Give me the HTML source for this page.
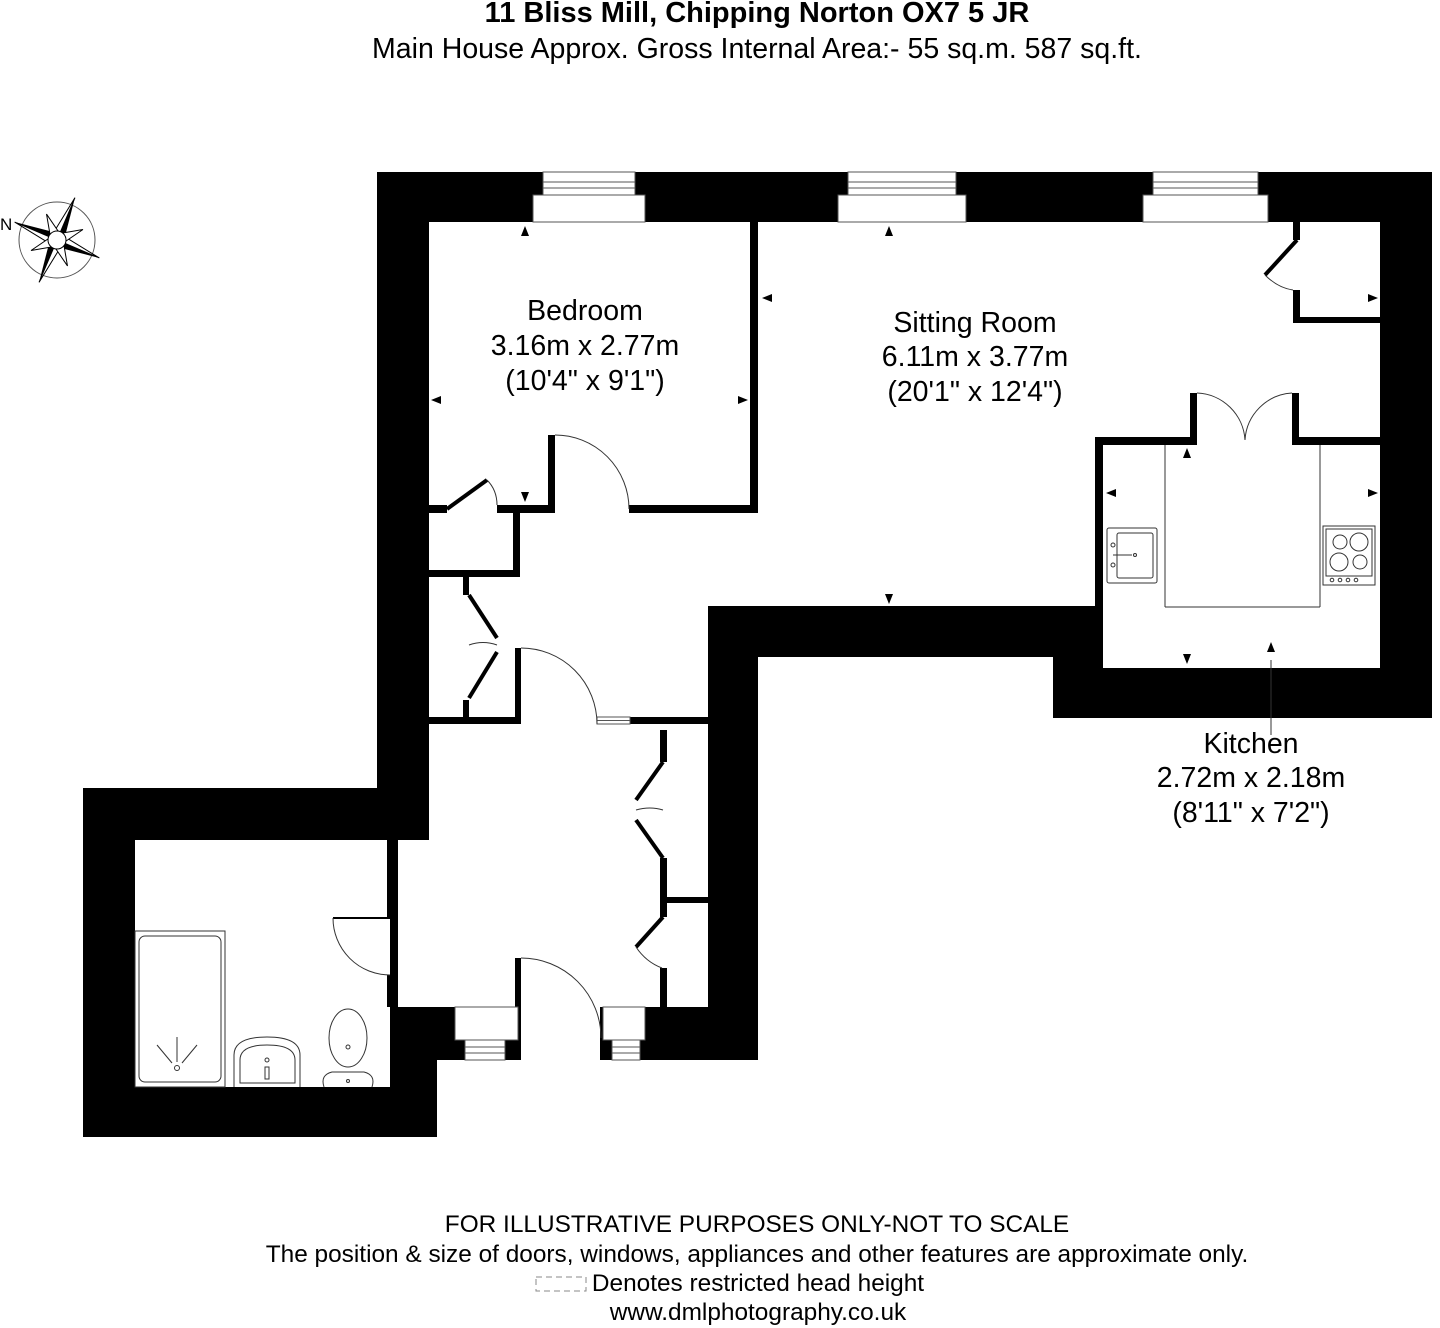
<!DOCTYPE html>
<html><head><meta charset="utf-8"><style>
html,body{margin:0;padding:0;background:#fff;}
svg{display:block;}
text{font-family:"Liberation Sans",Arial,sans-serif;fill:#000;}
</style></head><body>
<svg width="1440" height="1328" viewBox="0 0 1440 1328" xmlns="http://www.w3.org/2000/svg">
<rect width="1440" height="1328" fill="#fff"/>
<text x="757" y="22" font-size="29" font-weight="bold" text-anchor="middle">11 Bliss Mill, Chipping Norton OX7 5 JR</text>
<text x="757" y="58" font-size="28.5" text-anchor="middle">Main House Approx. Gross Internal Area:- 55 sq.m. 587 sq.ft.</text>

<path d="M377,172 H1432 V718 H1053 V657 H758 V1060 H437 V1137 H83 V788 H377 Z" fill="#000"/>
<g fill="#fff">
<rect x="429" y="222" width="951" height="384"/>
<rect x="429" y="606" width="279" height="401"/>
<rect x="398" y="840" width="31" height="167"/>
<rect x="1103" y="445" width="277" height="223"/>
<rect x="135" y="840" width="255" height="247"/>
<rect x="521" y="1007" width="79" height="54"/>
</g>
<g fill="#000">
<rect x="750" y="222" width="8" height="291"/>
<rect x="429" y="505" width="18" height="8"/>
<rect x="497" y="505" width="58" height="8"/>
<rect x="548" y="435" width="7" height="78"/>
<rect x="629" y="505" width="129" height="8"/>
<rect x="513" y="505" width="7" height="72"/>
<rect x="429" y="570" width="91" height="7"/>
<rect x="463" y="577" width="6" height="18"/>
<rect x="463" y="700" width="6" height="24"/>
<rect x="429" y="717" width="92" height="7"/>
<rect x="515" y="648" width="6" height="76"/>
<rect x="630" y="717" width="78" height="7"/>
<rect x="708" y="606" width="395" height="51"/>
<rect x="1053" y="606" width="50" height="112"/>
<rect x="708" y="606" width="50" height="454"/>
<rect x="1095" y="437" width="8" height="169"/>
<rect x="1095" y="437" width="100" height="8"/>
<rect x="1292" y="437" width="88" height="8"/>
<rect x="1190" y="393" width="7" height="52"/>
<rect x="1292" y="393" width="7" height="52"/>
<rect x="1293" y="222" width="7" height="18"/>
<rect x="1293" y="290" width="7" height="33"/>
<rect x="1293" y="317" width="87" height="6"/>
<rect x="660" y="730" width="7" height="32"/>
<rect x="660" y="858" width="7" height="45"/>
<rect x="660" y="897" width="48" height="6"/>
<rect x="660" y="903" width="7" height="14"/>
<rect x="660" y="968" width="7" height="39"/>
<rect x="387" y="840" width="11" height="78"/>
<rect x="387" y="975" width="11" height="32"/>
<rect x="398" y="1007" width="57" height="53"/>
<rect x="515" y="958" width="6" height="102"/>
<rect x="600" y="1007" width="3" height="53"/>
<rect x="645" y="1007" width="63" height="53"/>
</g>
<g fill="#fff" stroke="#555" stroke-width="1">
<rect x="543" y="172" width="92" height="23"/><line x1="543" y1="182" x2="635" y2="182"/><line x1="543" y1="188" x2="635" y2="188"/>
<rect x="533" y="195" width="112" height="27"/>
<rect x="848" y="172" width="108" height="23"/><line x1="848" y1="182" x2="956" y2="182"/><line x1="848" y1="188" x2="956" y2="188"/>
<rect x="838" y="195" width="128" height="27"/>
<rect x="1153" y="172" width="105" height="23"/><line x1="1153" y1="182" x2="1258" y2="182"/><line x1="1153" y1="188" x2="1258" y2="188"/>
<rect x="1143" y="195" width="125" height="27"/>
<rect x="597" y="717" width="33" height="7"/><line x1="597" y1="720.5" x2="630" y2="720.5"/>
<rect x="455" y="1007" width="63" height="33"/>
<rect x="465" y="1040" width="40" height="20"/><line x1="465" y1="1047" x2="505" y2="1047"/><line x1="465" y1="1053" x2="505" y2="1053"/>
<rect x="603" y="1007" width="42" height="33"/>
<rect x="612" y="1040" width="28" height="20"/><line x1="612" y1="1047" x2="640" y2="1047"/><line x1="612" y1="1053" x2="640" y2="1053"/>
</g>
<g stroke="#000" stroke-width="4" fill="none">
<line x1="447" y1="509" x2="487" y2="480"/>
<line x1="469" y1="595" x2="497" y2="638"/><line x1="497" y1="652" x2="469" y2="698"/>
<line x1="1297" y1="240" x2="1265" y2="275"/>
<line x1="663" y1="762" x2="636" y2="800"/><line x1="636" y1="820" x2="663" y2="858"/>
<line x1="663" y1="917" x2="636" y2="947"/>
</g>
<g stroke="#333" stroke-width="1" fill="none">
<path d="M487,480 Q497,490 497,505"/>
<path d="M555,435 A74,74 0 0 1 629,509"/>
<path d="M469,645 Q483,640 497,645"/>
<path d="M521,648 A76,76 0 0 1 597,724"/>
<path d="M1265,275 Q1278,288 1293,290"/>
<path d="M1197,393 A50,50 0 0 1 1245,440"/>
<path d="M1292,393 A50,50 0 0 0 1245,440"/>
<path d="M636,810 Q650,806 663,810"/>
<path d="M636,947 Q646,962 662,968"/>
<line x1="333" y1="918" x2="390" y2="918" stroke="#000" stroke-width="2"/>
<path d="M333,918 A57,57 0 0 0 390,975"/>
<path d="M521,958 A80,80 0 0 1 601,1038"/>
<line x1="1165" y1="445" x2="1165" y2="607"/>
<line x1="1320" y1="445" x2="1320" y2="607"/>
<line x1="1165" y1="607" x2="1320" y2="607"/>
<rect x="1107" y="528" width="50" height="55" rx="2"/>
<rect x="1117" y="533" width="36" height="45" rx="2"/>
<line x1="1113" y1="555" x2="1132" y2="555"/><circle cx="1135" cy="555" r="1.5"/>
<circle cx="1113" cy="545" r="2"/><circle cx="1113" cy="565" r="2"/>
<rect x="1323" y="526" width="52" height="59"/>
<rect x="1326" y="529" width="46" height="47"/>
<circle cx="1340" cy="542" r="7"/><circle cx="1359" cy="542" r="9"/>
<circle cx="1339" cy="562" r="9"/><circle cx="1360" cy="562" r="7"/>
<circle cx="1332" cy="580" r="1.8"/><circle cx="1340" cy="580" r="1.8"/><circle cx="1348" cy="580" r="1.8"/><circle cx="1356" cy="580" r="1.8"/>
<rect x="135" y="931" width="90" height="156"/>
<rect x="139" y="936" width="82" height="146" rx="6"/>
<line x1="177" y1="1037" x2="177" y2="1062"/>
<line x1="157" y1="1045" x2="172" y2="1063"/>
<line x1="197" y1="1045" x2="182" y2="1063"/>
<circle cx="177" cy="1068" r="2.5"/>
<path d="M234,1087 V1055 Q234,1037 267,1037 Q300,1037 300,1055 V1087"/>
<path d="M240,1083 V1060 Q240,1045 267,1045 Q295,1045 295,1060 V1083 Z"/>
<circle cx="267" cy="1060" r="2"/><rect x="265" y="1067" width="4" height="12"/>
<ellipse cx="348" cy="1038" rx="19" ry="29"/>
<path d="M324,1087 Q320,1075 332,1072 H364 Q376,1075 372,1087"/>
<circle cx="348" cy="1047" r="2"/><circle cx="348" cy="1081" r="1.5"/>
<line x1="1271" y1="660" x2="1271" y2="735"/>
</g>
<g fill="#000">
<path d="M521,236 L525,226 L529,236Z"/>
<path d="M441,396 L431,400 L441,404Z"/>
<path d="M738,396 L748,400 L738,404Z"/>
<path d="M521,492 L525,502 L529,492Z"/>
<path d="M772,294 L762,298 L772,302Z"/>
<path d="M885,236 L889,226 L893,236Z"/>
<path d="M885,594 L889,604 L893,594Z"/>
<path d="M1368,294 L1378,298 L1368,302Z"/>
<path d="M1183,458 L1187,448 L1191,458Z"/>
<path d="M1116,489 L1106,493 L1116,497Z"/>
<path d="M1368,489 L1378,493 L1368,497Z"/>
<path d="M1183,654 L1187,664 L1191,654Z"/>
<path d="M1267,652 L1271,642 L1275,652Z"/>
</g>
<g font-size="28.5" text-anchor="middle">
<text x="585" y="320">Bedroom</text>
<text x="585" y="355">3.16m x 2.77m</text>
<text x="585" y="390">(10'4" x 9'1")</text>
<text x="975" y="332">Sitting Room</text>
<text x="975" y="366">6.11m x 3.77m</text>
<text x="975" y="401">(20'1" x 12'4")</text>
<text x="1251" y="753">Kitchen</text>
<text x="1251" y="787">2.72m x 2.18m</text>
<text x="1251" y="822">(8'11" x 7'2")</text>
</g>
<g transform="translate(57,240)">
<circle r="38" fill="none" stroke="#555" stroke-width="1"/>
<g transform="rotate(-67)">
<path d="M0,-46 L6,-6 L0,0Z" fill="#000"/><path d="M0,-46 L-6,-6 L0,0Z" fill="#fff" stroke="#000" stroke-width="1"/>
<path d="M0,46 L-6,6 L0,0Z" fill="#000"/><path d="M0,46 L6,6 L0,0Z" fill="#fff" stroke="#000" stroke-width="1"/>
<path d="M46,0 L6,6 L0,0Z" fill="#000"/><path d="M46,0 L6,-6 L0,0Z" fill="#fff" stroke="#000" stroke-width="1"/>
<path d="M-46,0 L-6,-6 L0,0Z" fill="#000"/><path d="M-46,0 L-6,6 L0,0Z" fill="#fff" stroke="#000" stroke-width="1"/>
<g transform="rotate(45)">
<path d="M0,-28 L5,-5 L-5,-5Z" fill="#fff" stroke="#000" stroke-width="1"/>
<path d="M0,28 L5,5 L-5,5Z" fill="#fff" stroke="#000" stroke-width="1"/>
<path d="M28,0 L5,5 L5,-5Z" fill="#fff" stroke="#000" stroke-width="1"/>
<path d="M-28,0 L-5,5 L-5,-5Z" fill="#fff" stroke="#000" stroke-width="1"/>
</g>
</g>
<circle r="9" fill="#fff" stroke="#000" stroke-width="1"/>
</g>
<text x="0" y="230" font-size="17">N</text>
<g font-size="24.4" text-anchor="middle">
<text x="757" y="1232">FOR ILLUSTRATIVE PURPOSES ONLY-NOT TO SCALE</text>
<text x="757" y="1262">The position &amp; size of doors, windows, appliances and other features are approximate only.</text>
<text x="758" y="1291">Denotes restricted head height</text>
<text x="758" y="1320">www.dmlphotography.co.uk</text>
</g>
<rect x="536" y="1277" width="50" height="14" fill="none" stroke="#888" stroke-width="1" stroke-dasharray="6,4"/>
</svg>
</body></html>
